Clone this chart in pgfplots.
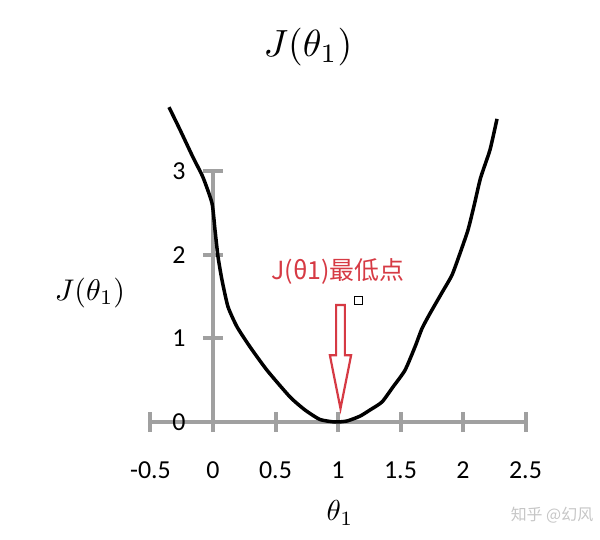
\documentclass[border=0pt]{standalone}
\usepackage{graphicx}
\usepackage{pgfplots}
\pgfplotsset{compat=1.18}
\usepackage{fontspec}
\setmainfont{Carlito}
\newfontfamily\cjk{Noto Sans CJK SC}
\definecolor{axgray}{RGB}{160,160,160}
\definecolor{annred}{RGB}{214,58,68}
\begin{document}
\begin{tikzpicture}
\useasboundingbox (-150.5bp,-118bp) rectangle (449.5bp,422bp);
\begin{axis}[
  x=125bp, y=83.5bp,
  xmin=-0.5, xmax=2.5, ymin=0, ymax=3,
  enlargelimits=false, clip=false,
  axis lines=middle,
  axis line style={-, draw=axgray, line width=4bp},
  xtick={-0.5,0,0.5,1,1.5,2,2.5}, ytick={0,1,2,3},
  xticklabels={-0.5,0,0.5,1,1.5,2,2.5}, yticklabels={0,1,2,3},
  hide obscured x ticks=false, hide obscured y ticks=false,
  tick align=center, major tick length=20bp,
  every tick/.style={draw=axgray, line width=4bp},
  tick label style={font=\fontsize{26}{26}\selectfont, text=black},
  xticklabel style={anchor=north, yshift=-26bp},
  yticklabel style={anchor=east, xshift=-14bp},
  title={\scalebox{3.8}{$J(\theta_1)$}}, xlabel={\scalebox{2.9}{$\theta_1$}}, ylabel={\scalebox{3.0}{$J(\theta_1)$}},
  every axis title/.style={at={(axis cs:0.76,4.49)}, anchor=center},
  every axis x label/.style={at={(axis cs:1.016,-1.09)}, anchor=center},
  every axis y label/.style={at={(axis cs:-0.984,1.545)}, anchor=center},
]
\addplot[black, line width=3.5bp, smooth, tension=0.35] coordinates {
  (-0.352,3.77) (-0.264,3.50) (-0.16,3.17) (-0.08,2.93) (-0.008,2.62)
  (0.016,2.30) (0.04,1.98) (0.072,1.70) (0.12,1.38) (0.192,1.14)
  (0.296,0.90) (0.432,0.62) (0.616,0.30) (0.736,0.144) (0.856,0.03)
  (0.976,0.0) (1.072,0.012) (1.176,0.07) (1.256,0.144) (1.352,0.24)
  (1.44,0.42) (1.536,0.62) (1.616,0.90) (1.672,1.12) (1.736,1.30)
  (1.832,1.55) (1.912,1.76) (1.976,2.02) (2.04,2.30) (2.09,2.60)
  (2.14,2.92) (2.216,3.26) (2.272,3.63)
};
\addplot[only marks, mark=square, mark size=4bp, mark options={draw=black, line width=0.8bp, fill=white}] coordinates {(1.16,1.46)};
\draw[annred, line width=2.2bp, fill=white, line join=miter]
  (axis cs:0.985,1.40) -- (axis cs:1.055,1.40) -- (axis cs:1.055,0.80) -- (axis cs:1.105,0.80)
  -- (axis cs:1.02,0.16) -- (axis cs:0.935,0.80) -- (axis cs:0.985,0.80) -- cycle;
\node[annred, font=\cjk\fontsize{25}{25}\selectfont, anchor=center] at (axis cs:1.0,1.80) {J(θ1)最低点};
\node[gray!45, font=\cjk\fontsize{16}{16}\selectfont, anchor=center] at (axis cs:2.712,-1.114) {知乎 @幻风};
\end{axis}
\end{tikzpicture}
\end{document}
